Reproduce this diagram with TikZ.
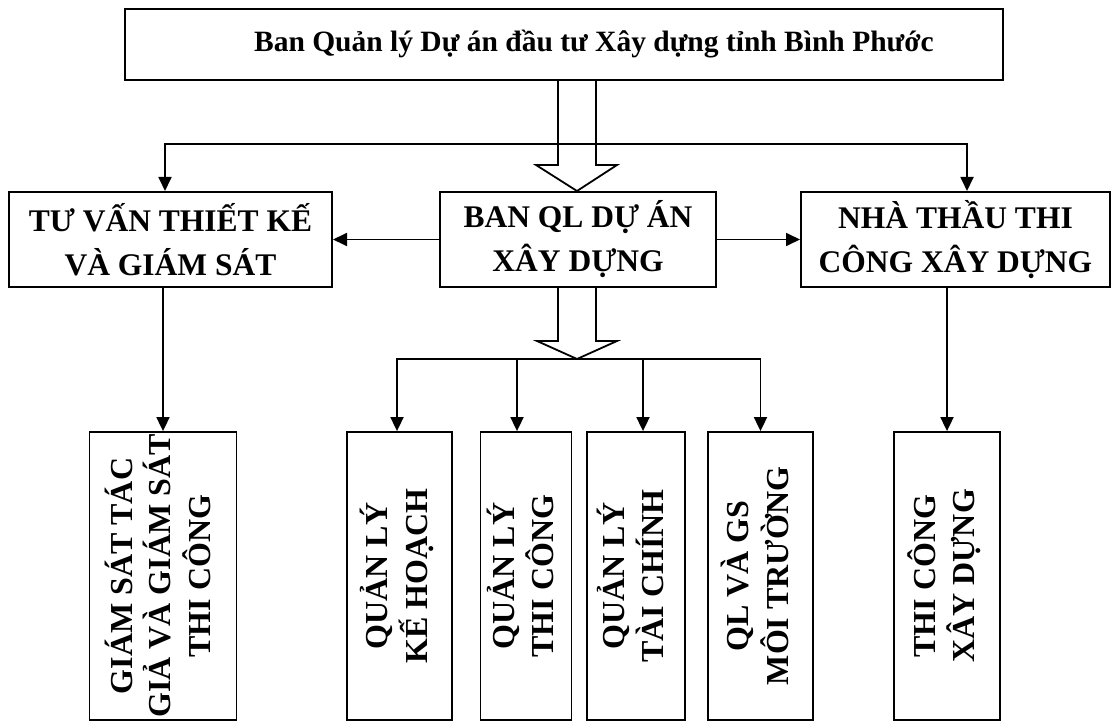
\documentclass[tikz,border=0pt]{standalone}
\usepackage{fontspec}
\setmainfont{Liberation Serif}
\usetikzlibrary{arrows.meta,calc}
\newcommand{\myvert}[1]{\rotatebox{90}{\begin{tabular}{@{}c@{}}#1\end{tabular}}}
\begin{document}
\begin{tikzpicture}[x=1pt,y=1pt,
  box/.style={draw, line width=2pt, rectangle, inner sep=0pt, align=center,
    font=\bfseries\fontsize{31.5}{44}\selectfont},
  vbox/.style={draw, line width=1.8pt, rectangle, inner sep=0pt, minimum height=288pt,
    font=\bfseries\fontsize{32}{38}\selectfont},
  conn/.style={line width=1.8pt, -{Triangle[length=14pt,width=13pt]}},
  hollow/.style={line width=1.8pt, line join=miter}
]
\useasboundingbox (0,0) rectangle (1114,-722);

% top level
\node[box, minimum width=878pt, minimum height=71pt,
  font=\bfseries\fontsize{29.5}{36}\selectfont] (T) at (564,-44.5)
  {\hspace*{60pt}Ban Quản lý Dự án đầu tư Xây dựng tỉnh Bình Phước};

% second level
\node[box, minimum width=323pt, minimum height=95pt] (L) at (170.5,-239.5)
  {TƯ VẤN THIẾT KẾ\\VÀ GIÁM SÁT};
\node[box, minimum width=276pt, minimum height=95pt] (M) at (578,-239.5)
  {BAN QL DỰ ÁN\\XÂY DỰNG};
\node[box, minimum width=309pt, minimum height=95pt] (R) at (955.5,-239.5)
  {NHÀ THẦU THI\\CÔNG XÂY DỰNG};

% third level
\node[vbox, minimum width=147pt] (A) at (163,-576)
  {\myvert{GIÁM SÁT TÁC\\GIẢ VÀ GIÁM SÁT\\THI CÔNG}};
\node[vbox, minimum width=105pt] (B) at (399.5,-576)
  {\myvert{QUẢN LÝ\\KẾ HOẠCH}};
\node[vbox, minimum width=91pt] (C) at (526,-576)
  {\myvert{QUẢN LÝ\\THI CÔNG}};
\node[vbox, minimum width=98pt] (D) at (636,-576)
  {\myvert{QUẢN LÝ\\TÀI CHÍNH}};
\node[vbox, minimum width=105pt] (E) at (760.5,-576)
  {\myvert{QL VÀ GS\\MÔI TRƯỜNG}};
\node[vbox, minimum width=106pt] (F) at (947,-576)
  {\myvert{THI CÔNG\\XÂY DỰNG}};

\coordinate (h1) at (577,-144);
\coordinate (h2) at (577,-359);

% hollow arrow 1
\draw[hollow] ($(T.south -| h1)+(-19,0)$) -- ($(M.north -| h1)+(-19,26)$)
  -- ($(M.north -| h1)+(-41,26)$) -- (M.north -| h1)
  -- ($(M.north -| h1)+(40,26)$) -- ($(M.north -| h1)+(19,26)$)
  -- ($(T.south -| h1)+(19,0)$);

% hollow arrow 2
\draw[hollow] ($(M.south -| h2)+(-19,0)$) -- ($(h2)+(-19,18)$)
  -- ($(h2)+(-40,18)$) -- (h2)
  -- ($(h2)+(40,18)$) -- ($(h2)+(19,18)$)
  -- ($(M.south -| h2)+(19,0)$);

% connectors level 1
\draw[conn] (h1) -| ([xshift=-5.5pt]L.north);
\draw[conn] (h1) -| ([xshift=11.5pt]R.north);
\draw[conn] (M.west) -- (L.east);
\draw[conn] (M.east) -- (R.west);

% connectors level 2
\draw[conn] (h2) -| ([xshift=-2.5pt]B.north);
\draw[conn] (h2) -| ([xshift=-9pt]C.north);
\draw[conn] (h2) -| ([xshift=7pt]D.north);
\draw[conn] (h2) -| (E.north);
\draw[conn] (L.south -| A.north) -- (A.north);
\draw[conn] (R.south -| F.north) -- (F.north);
\end{tikzpicture}
\end{document}
